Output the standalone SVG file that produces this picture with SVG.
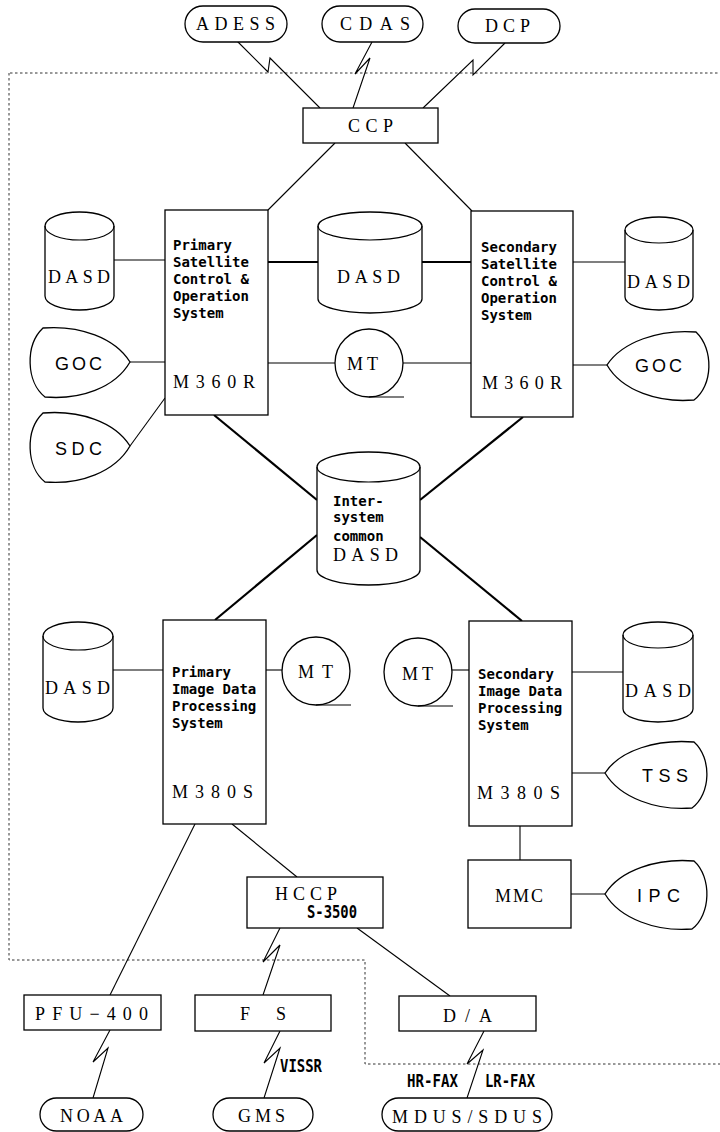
<svg xmlns="http://www.w3.org/2000/svg" width="720" height="1132" viewBox="0 0 720 1132">
<style>
.bg{fill:#fff}
.sh{fill:#fff;stroke:#000;stroke-width:1.3}
.ln{fill:none;stroke:#000;stroke-width:1.1}
.tk{fill:none;stroke:#000;stroke-width:2.2}
.dot{fill:none;stroke:#333;stroke-width:1;stroke-dasharray:2.5,2.5}
.sf{font-family:"Liberation Serif","DejaVu Serif",serif;font-size:18px;fill:#000}
.ss{font-family:"Liberation Sans","DejaVu Sans",sans-serif;font-size:18px;fill:#000}
.mn{font-family:"DejaVu Sans Mono","Liberation Mono",monospace;font-weight:bold;font-size:14px;fill:#000}
.lb{font-family:"DejaVu Sans Mono","Liberation Mono",monospace;font-weight:bold;font-size:17px;fill:#000}
</style>
<rect class="bg" x="0" y="0" width="720" height="1132"/>
<g id="boundary">
<path class="dot" d="M10,73 H720 M9,73 V960 H365 V1064 H720"/>
</g>
<g id="connectors">
<polyline class="ln" points="237,41 268,72 270,58 320,108"/>
<polyline class="ln" points="372,42 355,74 370,58 353,108"/>
<polyline class="ln" points="505,43 473,75 473,60 423,108"/>
<line class="ln" x1="335" y1="143" x2="268" y2="210"/>
<line class="ln" x1="405" y1="143" x2="472" y2="211"/>
<line class="ln" x1="114" y1="260" x2="165" y2="260"/>
<line class="tk" x1="268" y1="262" x2="318" y2="262"/>
<line class="tk" x1="422" y1="262" x2="471" y2="262"/>
<line class="ln" x1="573" y1="262" x2="625" y2="262"/>
<line class="ln" x1="130" y1="362" x2="165" y2="362"/>
<line class="ln" x1="268" y1="363" x2="335" y2="363"/>
<line class="ln" x1="403" y1="363" x2="471" y2="363"/>
<line class="ln" x1="573" y1="365" x2="607" y2="365"/>
<line class="ln" x1="165" y1="398" x2="130" y2="446"/>
<line class="tk" x1="214" y1="415" x2="317" y2="500"/>
<line class="tk" x1="523" y1="417" x2="420" y2="500"/>
<line class="tk" x1="317" y1="535" x2="215" y2="620"/>
<line class="tk" x1="420" y1="537" x2="522" y2="621"/>
<line class="ln" x1="113" y1="670" x2="163" y2="670"/>
<line class="ln" x1="266" y1="670" x2="283" y2="670"/>
<line class="ln" x1="452" y1="670" x2="469" y2="670"/>
<line class="ln" x1="572" y1="672" x2="623" y2="672"/>
<line class="ln" x1="572" y1="773" x2="605" y2="773"/>
<line class="ln" x1="520" y1="826" x2="520" y2="860"/>
<line class="ln" x1="571" y1="894" x2="605" y2="894"/>
<line class="ln" x1="195" y1="824" x2="110" y2="995"/>
<line class="ln" x1="232" y1="824" x2="297" y2="877"/>
<polyline class="ln" points="280,928 263,962 280,945 263,995"/>
<line class="ln" x1="357" y1="928" x2="450" y2="996"/>
<polyline class="ln" points="110,1030 93,1062 108,1048 93,1098"/>
<polyline class="ln" points="280,1031 264,1063 280,1048 264,1098"/>
<polyline class="ln" points="484,1031 467,1064 483,1050 467,1098"/>
</g>
<g id="ADESS"><rect class="sh" x="185" y="6" width="102" height="36" rx="18"/><text class="sf" x="196" y="30" textLength="79" lengthAdjust="spacing">ADESS</text></g>
<g id="CDAS"><rect class="sh" x="322" y="6" width="101" height="36" rx="18"/><text class="sf" x="340" y="30" textLength="70" lengthAdjust="spacing">CDAS</text></g>
<g id="DCP"><rect class="sh" x="458" y="9" width="102" height="34" rx="17"/><text class="sf" x="485" y="32" textLength="45" lengthAdjust="spacing">DCP</text></g>
<g id="CCP"><rect class="sh" x="303" y="108" width="135" height="35"/><text class="sf" x="348" y="132" textLength="45" lengthAdjust="spacing">CCP</text></g>
<g id="PriSat"><rect class="sh" x="165" y="210" width="103" height="205"/>
<text class="mn" x="173" y="250">Primary</text><text class="mn" x="173" y="267">Satellite</text><text class="mn" x="173" y="284">Control &amp;</text><text class="mn" x="173" y="301">Operation</text><text class="mn" x="173" y="318">System</text>
<text class="sf" x="173" y="388" textLength="82" lengthAdjust="spacing">M360R</text></g>
<g id="SecSat"><rect class="sh" x="471" y="211" width="102" height="206"/>
<text class="mn" x="481" y="252">Secondary</text><text class="mn" x="481" y="269">Satellite</text><text class="mn" x="481" y="286">Control &amp;</text><text class="mn" x="481" y="303">Operation</text><text class="mn" x="481" y="320">System</text>
<text class="sf" x="482" y="389" textLength="80" lengthAdjust="spacing">M360R</text></g>
<g id="DASD1"><path class="sh" d="M45,226 A34.5,14 0 0 1 114,226 V296 A34.5,14 0 0 1 45,296 Z"/><path class="ln" d="M45,226 A34.5,14 0 0 0 114,226"/><text class="sf" x="48" y="283" textLength="62" lengthAdjust="spacing">DASD</text></g>
<g id="DASD2"><path class="sh" d="M318,226 A52,14 0 0 1 422,226 V299 A52,14 0 0 1 318,299 Z"/><path class="ln" d="M318,226 A52,14 0 0 0 422,226"/><text class="sf" x="337" y="283" textLength="63" lengthAdjust="spacing">DASD</text></g>
<g id="DASD3"><path class="sh" d="M625,230 A34,13 0 0 1 693,230 V297 A34,13 0 0 1 625,297 Z"/><path class="ln" d="M625,230 A34,13 0 0 0 693,230"/><text class="sf" x="627" y="288" textLength="63" lengthAdjust="spacing">DASD</text></g>
<g id="GOC1"><path class="sh" d="M43,328 C80,325 115,338 130,362 C115,388 80,400 45,397 C26,382 25,345 43,328 Z"/><text class="ss" x="55" y="370" textLength="47" lengthAdjust="spacing">GOC</text></g>
<g id="MT1"><circle class="sh" cx="369" cy="363" r="34"/><line class="ln" x1="369" y1="397" x2="404" y2="397"/><text class="sf" x="347" y="370" textLength="31" lengthAdjust="spacing">MT</text></g>
<g id="GOC2"><path class="sh" d="M696,332 C659,329 622,342 607,365 C622,391 659,403 694,400 C713,386 714,349 696,332 Z"/><text class="ss" x="635" y="372" textLength="47" lengthAdjust="spacing">GOC</text></g>
<g id="SDC"><path class="sh" d="M43,413 C80,410 115,422 130,446 C115,472 80,485 45,482 C26,467 25,430 43,413 Z"/><text class="ss" x="55" y="455" textLength="47" lengthAdjust="spacing">SDC</text></g>
<g id="InterDASD"><path class="sh" d="M317,467 A51.5,15 0 0 1 420,467 V570 A51.5,15 0 0 1 317,570 Z"/><path class="ln" d="M317,467 A51.5,15 0 0 0 420,467"/>
<text class="mn" x="333" y="506">Inter-</text><text class="mn" x="333" y="522">system</text><text class="mn" x="333" y="541">common</text>
<text class="sf" x="333" y="561" textLength="65" lengthAdjust="spacing">DASD</text></g>
<g id="PriImg"><rect class="sh" x="163" y="620" width="103" height="204"/>
<text class="mn" x="172" y="677">Primary</text><text class="mn" x="172" y="694">Image Data</text><text class="mn" x="172" y="711">Processing</text><text class="mn" x="172" y="728">System</text>
<text class="sf" x="172" y="798" textLength="81" lengthAdjust="spacing">M380S</text></g>
<g id="SecImg"><rect class="sh" x="469" y="621" width="103" height="205"/>
<text class="mn" x="478" y="679">Secondary</text><text class="mn" x="478" y="696">Image Data</text><text class="mn" x="478" y="713">Processing</text><text class="mn" x="478" y="730">System</text>
<text class="sf" x="477" y="799" textLength="83" lengthAdjust="spacing">M380S</text></g>
<g id="DASD4"><path class="sh" d="M43,636 A35,14 0 0 1 113,636 V708 A35,14 0 0 1 43,708 Z"/><path class="ln" d="M43,636 A35,14 0 0 0 113,636"/><text class="sf" x="45" y="694" textLength="65" lengthAdjust="spacing">DASD</text></g>
<g id="MT2"><circle class="sh" cx="316" cy="671" r="34"/><line class="ln" x1="316" y1="705" x2="351" y2="705"/><text class="sf" x="298" y="678" textLength="35" lengthAdjust="spacing">MT</text></g>
<g id="MT3"><circle class="sh" cx="418" cy="672" r="34"/><line class="ln" x1="418" y1="706" x2="453" y2="706"/><text class="sf" x="402" y="680" textLength="31" lengthAdjust="spacing">MT</text></g>
<g id="DASD5"><path class="sh" d="M623,635 A35,13 0 0 1 693,635 V709 A35,13 0 0 1 623,709 Z"/><path class="ln" d="M623,635 A35,13 0 0 0 693,635"/><text class="sf" x="625" y="697" textLength="66" lengthAdjust="spacing">DASD</text></g>
<g id="TSS"><path class="sh" d="M694,742 C657,739 620,750 605,773 C620,798 657,811 692,808 C711,794 712,758 694,742 Z"/><text class="ss" x="642" y="782" textLength="46" lengthAdjust="spacing">TSS</text></g>
<g id="MMC"><rect class="sh" x="468" y="860" width="103" height="68"/><text class="sf" x="495" y="902" textLength="48" lengthAdjust="spacing">MMC</text></g>
<g id="IPC"><path class="sh" d="M694,861 C657,858 620,870 605,894 C620,919 657,932 692,929 C711,915 712,877 694,861 Z"/><text class="ss" x="637" y="902" textLength="43" lengthAdjust="spacing">IPC</text></g>
<g id="HCCP"><rect class="sh" x="247" y="877" width="136" height="51"/><text class="sf" x="275" y="900" textLength="62" lengthAdjust="spacing">HCCP</text><text class="lb" x="307" y="918" textLength="50" lengthAdjust="spacingAndGlyphs">S-3500</text></g>
<g id="PFU"><rect class="sh" x="24" y="995" width="137" height="35"/><text class="sf" x="35" y="1020" textLength="113" lengthAdjust="spacing">PFU−400</text></g>
<g id="FS"><rect class="sh" x="195" y="995" width="136" height="36"/><text class="sf" x="240" y="1020" textLength="46" lengthAdjust="spacing">F S</text></g>
<g id="DA"><rect class="sh" x="399" y="996" width="137" height="35"/><text class="sf" x="443" y="1022" textLength="49" lengthAdjust="spacing">D/A</text></g>
<g id="labels">
<text class="lb" x="280" y="1072" textLength="42" lengthAdjust="spacingAndGlyphs">VISSR</text>
<text class="lb" x="407" y="1087" textLength="51" lengthAdjust="spacingAndGlyphs">HR-FAX</text>
<text class="lb" x="485" y="1087" textLength="50" lengthAdjust="spacingAndGlyphs">LR-FAX</text>
</g>
<g id="NOAA"><rect class="sh" x="40" y="1098" width="103" height="33" rx="16.5"/><text class="sf" x="60" y="1122" textLength="63" lengthAdjust="spacing">NOAA</text></g>
<g id="GMS"><rect class="sh" x="213" y="1098" width="100" height="33" rx="16.5"/><text class="sf" x="238" y="1122" textLength="47" lengthAdjust="spacing">GMS</text></g>
<g id="MDUS"><rect class="sh" x="382" y="1098" width="170" height="33" rx="16.5"/><text class="sf" x="392" y="1123" textLength="150" lengthAdjust="spacing">MDUS/SDUS</text></g>
</svg>
